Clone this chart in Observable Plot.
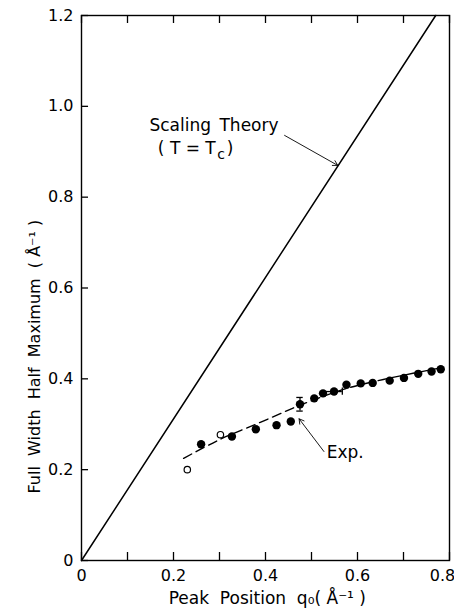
<!DOCTYPE html>
<html><head><meta charset="utf-8">
<script src="https://cdn.jsdelivr.net/npm/d3@7"></script>
<script src="https://cdn.jsdelivr.net/npm/@observablehq/plot@0.6"></script>
<style>body{margin:0;background:#fff}</style>
</head><body><div id="chart"></div>
<script>
// Experimental (filled) points
const expX = [0.260,0.327,0.379,0.424,0.455,0.475,0.506,0.525,0.549,0.576,0.607,0.633,0.670,0.701,0.732,0.761,0.781];
const expY = [0.256,0.273,0.289,0.298,0.306,0.344,0.357,0.368,0.372,0.387,0.390,0.391,0.396,0.402,0.411,0.416,0.421];
// Open circles
const openX = [0.230,0.302];
const openY = [0.200,0.277];
// Dashed fit
const fitX = [0.222,0.30,0.36,0.42,0.475,0.53,0.58,0.64,0.70,0.785];
const fitY = [0.225,0.266,0.292,0.318,0.342,0.363,0.380,0.395,0.408,0.425];
// Scaling theory line
const theoryX = [0,0.77];
const theoryY = [0,1.2];
// Error bars
const errV = {x:0.475, y1:0.329, y2:0.359, cap:0.007};
const errH = {y:0.372, x1:0.528, x2:0.567, cap:0.008};
// Ticks
const xTicks = [0,0.1,0.2,0.3,0.4,0.5,0.6,0.7,0.8];
const xTickLabels = [0,0.2,0.4,0.6];
const xLastLabel = [0.8];
const yTicks = [0,0.2,0.4,0.6,0.8,1.0,1.2];
// Annotations
const notesMid = [{x:0.288, y:0.958, text:"Scaling\u2002Theory"}];
const notesStart = [
  {x:0.166, y:0.906, text:"( T = T"},
  {x:0.316, y:0.906, text:")"},
  {x:0.533, y:0.238, text:"Exp."}
];
const subC = {x:0.295, y:0.893, text:"c"};
const arrows = [
  {x1:0.4415, y1:0.936, x2:0.557, y2:0.870},
  {x1:0.527, y1:0.240, x2:0.473, y2:0.312}
];
const yLabel = "Full  Width  Half  Maximum  ( Å\u207B\u00B9 )";
const xLabel = "Peak  Position  q\u2080( Å\u207B\u00B9 )";

const fmt = d => d === 0 ? "0" : d.toFixed(1);
const pts = expX.map((x,i)=>({x, y:expY[i]}));
const opens = openX.map((x,i)=>({x, y:openY[i]}));
const fit = fitX.map((x,i)=>({x, y:fitY[i]}));
const theory = theoryX.map((x,i)=>({x, y:theoryY[i]}));
const tickLenY = 0.0176, tickLenX = 0.0153;
const ink = "#000";
const fs = 16;
const fa = 17;

const chart = Plot.plot({
  width: 454, height: 615,
  marginLeft: 81, marginRight: 5, marginTop: 15, marginBottom: 55,
  style: {fontFamily: "'DejaVu Sans',sans-serif", fontSize: fs + "px", color: ink, background: "#fff"},
  x: {type: "linear", domain: [0, 0.8], axis: null},
  y: {type: "linear", domain: [0, 1.2]},
  marks: [
    Plot.frame({stroke: ink, strokeWidth: 1.4}),
    Plot.text(xTickLabels, {x: d=>d, frameAnchor: "bottom", text: fmt, dy: 20, fontSize: fs, fill: ink}),
    Plot.text(xLastLabel, {x: d=>d, frameAnchor: "bottom", text: fmt, dy: 20, dx: -7, fontSize: fs, fill: ink}),
    Plot.axisY({ticks: yTicks, tickSize: 0, tickPadding: 8, tickFormat: fmt, label: null, fontSize: fs}),
    Plot.ruleX(xTicks, {x: d=>d, y1: 0, y2: tickLenY, stroke: ink, strokeWidth: 1.3}),
    Plot.ruleX(xTicks, {x: d=>d, y1: 1.2, y2: 1.2 - tickLenY, stroke: ink, strokeWidth: 1.3}),
    Plot.ruleY(yTicks, {y: d=>d, x1: 0, x2: tickLenX, stroke: ink, strokeWidth: 1.3}),
    Plot.line(theory, {x: "x", y: "y", stroke: ink, strokeWidth: 1.5}),
    Plot.line(fit, {x: "x", y: "y", curve: "natural", stroke: ink, strokeWidth: 1.4, strokeDasharray: "9,5"}),
    Plot.ruleX([errV], {x: "x", y1: "y1", y2: "y2", stroke: ink, strokeWidth: 1.3}),
    Plot.ruleY([errV], {y: "y1", x1: d=>d.x - d.cap, x2: d=>d.x + d.cap, stroke: ink, strokeWidth: 1.3}),
    Plot.ruleY([errV], {y: "y2", x1: d=>d.x - d.cap, x2: d=>d.x + d.cap, stroke: ink, strokeWidth: 1.3}),
    Plot.ruleY([errH], {y: "y", x1: "x1", x2: "x2", stroke: ink, strokeWidth: 1.3}),
    Plot.ruleX([errH], {x: "x2", y1: d=>d.y - d.cap, y2: d=>d.y + d.cap, stroke: ink, strokeWidth: 1.3}),
    Plot.dot(pts, {x: "x", y: "y", r: 4.2, fill: ink, stroke: "none"}),
    Plot.dot(opens, {x: "x", y: "y", r: 3.2, fill: "#fff", stroke: ink, strokeWidth: 1.2}),
    Plot.arrow(arrows, {x1: "x1", y1: "y1", x2: "x2", y2: "y2", stroke: ink, strokeWidth: 0.9, headLength: 9}),
    Plot.text(notesMid, {x: "x", y: "y", text: "text", textAnchor: "middle", fontSize: fa, fill: ink}),
    Plot.text(notesStart, {x: "x", y: "y", text: "text", textAnchor: "start", fontSize: fa, fill: ink}),
    Plot.text([subC], {x: "x", y: "y", text: "text", textAnchor: "start", fontSize: 14, fill: ink}),
    Plot.text([yLabel], {frameAnchor: "left", y: [0.449], text: d=>d, rotate: -90, dx: -47, textAnchor: "middle", fontSize: 16, fill: ink}),
    Plot.text([xLabel], {frameAnchor: "bottom", x: [0.404], text: d=>d, dy: 43, textAnchor: "middle", fontSize: fa, fill: ink})
  ]
});
document.getElementById("chart").appendChild(chart);
</script>
</body></html>
